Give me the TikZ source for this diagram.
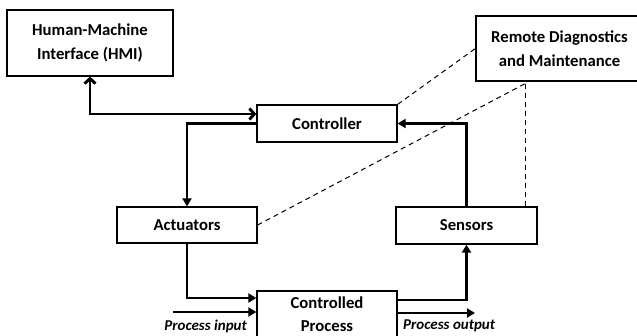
\documentclass[tikz,border=0pt]{standalone}
\usepackage{fontspec}
\setmainfont{Carlito}
\usepackage{tikz}
\usetikzlibrary{arrows.meta}

\begin{document}
\begin{tikzpicture}[x=1pt,y=-1pt,
        font=\fontsize{16.7}{23.5}\selectfont\bfseries,
        blk/.style={draw,line width=1.3pt,align=center,inner sep=0pt},
        flow/.style={line width=2.9pt,-{Triangle[length=8pt,width=9pt]}},
        dual/.style={line width=2.9pt,{Straight Barb[length=5pt,width=11pt]}-{Straight Barb[length=5pt,width=11pt]}},
        link/.style={line width=1pt,dash pattern=on 5pt off 4pt},
        tag/.style={font=\fontsize{15}{18}\selectfont\bfseries\itshape,inner sep=0pt}]
        \useasboundingbox (0,0) rectangle (637,335);
        \clip (0,0) rectangle (637,335);

        \node[blk,minimum width=166pt,minimum height=66pt] at (90,43) (hmi){Human-Machine\\Interface (HMI)};
        \node[blk,minimum width=167pt,minimum height=65pt] at (559.5,48.5) (rdm){Remote Diagnostics\\and Maintenance};
        \node[blk,minimum width=140pt,minimum height=37pt] at (327,123.5) (ctrl){Controller};
        \node[blk,minimum width=140pt,minimum height=36pt] at (187,225) (act){Actuators};
        \node[blk,minimum width=141pt,minimum height=37pt] at (466.5,225.5) (sens){Sensors};
        \node[blk,minimum width=140pt,minimum height=46pt] at (327,314) (proc){Controlled\\Process};

        \node[tag,anchor=east] at (247,326) (pinlbl){Process input};
        \node[tag,anchor=west] at (403,326) (poutlbl){Process output};
        \coordinate (pin) at (173,312);
        \coordinate (pout) at (475,313);
        \coordinate (rd) at ([xshift=-34.5pt,yshift=-2pt]rdm.south);

        \draw[dual] (hmi.south) |- ([yshift=9.5pt]ctrl.west);
        \draw[flow] (ctrl.west) -| (act.north);
        \draw[flow] (act.south) |- ([yshift=16pt]proc.west);
        \draw[flow] (pin) -- (pin -| proc.west);
        \draw[flow] ([yshift=14pt]proc.east) -| (sens.south);
        \draw[flow] (pout -| proc.east) -- (pout);
        \draw[flow] (sens.north) |- (ctrl.east);

        \draw[link] (ctrl.north east) -- (rdm.west);
        \draw[link] (act.east) -- (rd);
        \draw[link] (rd) -- (rd |- sens.north);
    \end{tikzpicture}
\end{document}
